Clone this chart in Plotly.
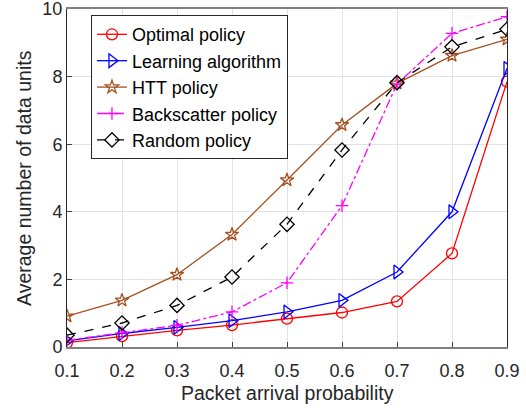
import plotly.graph_objects as go

x = [0.1, 0.2, 0.3, 0.4, 0.5, 0.6, 0.7, 0.8, 0.9]
optimal = [0.13, 0.32, 0.49, 0.65, 0.84, 1.02, 1.35, 2.77, 7.85]
learning = [0.18, 0.40, 0.58, 0.78, 1.04, 1.38, 2.22, 4.0, 8.24]
htt = [0.91, 1.38, 2.14, 3.33, 4.94, 6.57, 7.8, 8.62, 9.1]
backscatter = [0.2, 0.42, 0.64, 1.04, 1.9, 4.18, 7.78, 9.28, 9.77]
random_p = [0.35, 0.71, 1.23, 2.07, 3.63, 5.83, 7.82, 8.88, 9.4]

xticks = [0.1, 0.2, 0.3, 0.4, 0.5, 0.6, 0.7, 0.8, 0.9]
yticks = [0, 2, 4, 6, 8, 10]

FONT = "Liberation Sans, Arial, sans-serif"
fig = go.Figure()

def add(name, y, color, symbol, dash, msize):
    fig.add_trace(go.Scatter(
        x=x, y=y, name=name, mode="lines+markers",
        line=dict(color=color, width=1.3, dash=dash),
        marker=dict(symbol=symbol, size=msize, color=color,
                    line=dict(color=color, width=1.3)),
    ))

add("Optimal policy", optimal, "#FF0000", "circle-open", "solid", 11)
add("Learning algorithm", learning, "#0000FF", "triangle-right-open", "solid", 12)
add("HTT policy", htt, "#A5501E", "star-open", "solid", 10)
add("Backscatter policy", backscatter, "#FF00FF", "cross-thin-open", "dashdot", 9)
add("Random policy", random_p, "#000000", "diamond-open", "dash", 11)

fig.update_layout(
    width=526, height=408,
    margin=dict(l=67, r=19, t=9, b=61, autoexpand=False),
    paper_bgcolor="white", plot_bgcolor="white",
    font=dict(family=FONT, size=18, color="#262626"),
    showlegend=True,
    legend=dict(x=0.0545, y=0.982, xanchor="left", yanchor="top",
                bgcolor="white", bordercolor="#262626", borderwidth=1,
                font=dict(family=FONT, size=18, color="#000000"),
                itemwidth=30, tracegroupgap=0),
    xaxis=dict(range=[0.1, 0.9], tickvals=xticks,
               ticktext=[str(v) for v in xticks],
               showgrid=True, gridcolor="#E3E3E3", gridwidth=1,
               showline=True, linecolor="#808080", linewidth=2, mirror=True,
               ticks="inside", ticklen=5, tickcolor="#404040",
               tickfont=dict(size=18, color="#262626"),
               ticklabeloverflow="allow", ticklabelstandoff=6,
               zeroline=False, automargin=False),
    yaxis=dict(range=[0, 10], tickvals=yticks,
               showgrid=True, gridcolor="#E3E3E3", gridwidth=1,
               showline=True, linecolor="#262626", linewidth=1, mirror=True,
               ticks="inside", ticklen=5, tickcolor="#404040",
               tickfont=dict(size=18, color="#262626"),
               ticklabeloverflow="allow",
               zeroline=False, automargin=False),
    annotations=[
        dict(text="Packet arrival probability", xref="paper", yref="paper",
             x=0.5, y=-0.136, xanchor="center", yanchor="middle", showarrow=False,
             font=dict(family=FONT, size=19.5, color="#262626")),
        dict(text="Average number of data units", xref="paper", yref="paper",
             x=-0.0977, y=0.5, xanchor="center", yanchor="middle", showarrow=False,
             textangle=-90, font=dict(family=FONT, size=19.5, color="#262626")),
    ],
)

fig.write_html("out.html", config={"displayModeBar": False},
               post_script="document.body.style.margin='0';document.body.style.padding='0';document.body.style.overflow='hidden';")
